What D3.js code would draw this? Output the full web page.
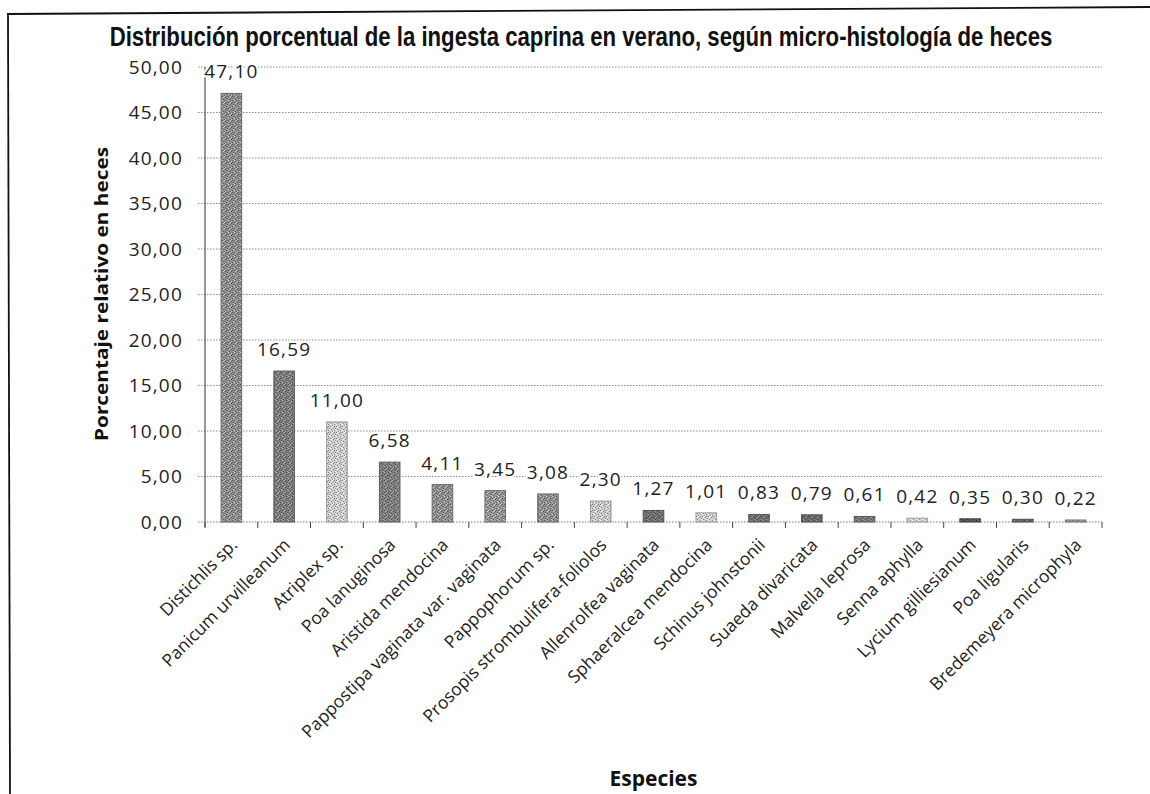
<!DOCTYPE html>
<html><head><meta charset="utf-8">
<script src="https://cdn.jsdelivr.net/npm/d3@7"></script>
<style>html,body{margin:0;padding:0;background:#fff;}svg{display:block;}</style>
</head><body>
<svg id="chart" width="1150" height="794"></svg>
<script>
// ---- data ----
const species = ["Distichlis sp.","Panicum urvilleanum","Atriplex sp.","Poa lanuginosa","Aristida mendocina","Pappostipa vaginata var. vaginata","Pappophorum sp.","Prosopis strombulifera-foliolos","Allenrolfea vaginata","Sphaeralcea mendocina","Schinus johnstonii","Suaeda divaricata","Malvella leprosa","Senna aphylla","Lycium gilliesianum","Poa ligularis","Bredemeyera microphyla"];
const values = [47.10,16.59,11.00,6.58,4.11,3.45,3.08,2.30,1.27,1.01,0.83,0.79,0.61,0.42,0.35,0.30,0.22];
const yTicks = [0,5,10,15,20,25,30,35,40,45,50];
const titleText = "Distribución porcentual de la ingesta caprina en verano, según micro-histología de heces";
const yTitle = "Porcentaje relativo en heces";
const xTitle = "Especies";
// ---- styles ----
const barShades = ["#8c8c8c","#7d7d7d","#cdcdcd","#7e7e7e","#8e8e8e","#949494","#8f8f8f","#c9c9c9","#6f6f6f","#cfcfcf","#717171","#6b6b6b","#787878","#d3d3d3","#555555","#666666","#9a9a9a"];

const svg = d3.select("#chart");
const fmt = v => d3.format(".2f")(v).replace(".", ",");
const M = {left:205, right:1102, top:67, bottom:522};

const x = d3.scaleBand().domain(species).range([M.left, M.right]).paddingInner(0.61).paddingOuter(0.305);
const y = d3.scaleLinear().domain([0,50]).range([M.bottom, M.top]);

// frame (left and top edges only visible)
svg.append("line").attr("x1",7).attr("y1",14).attr("x2",1150).attr("y2",7).attr("stroke","#111").attr("stroke-width",1.8);
svg.append("line").attr("x1",8).attr("y1",14).attr("x2",10).attr("y2",794).attr("stroke","#111").attr("stroke-width",1.8);

// patterns
const defs = svg.append("defs");
const darkDots = [[0,0],[3,1],[1,3],[4,4],[2,5],[5,2],[4,0]];
const lightDots = [[2,0],[5,3],[0,4],[3,5],[1,1]];
barShades.forEach((c,i)=>{
  const p = defs.append("pattern").attr("id","pat"+i).attr("patternUnits","userSpaceOnUse").attr("width",6).attr("height",6);
  p.append("rect").attr("width",6).attr("height",6).attr("fill",c);
  darkDots.forEach(d=>p.append("rect").attr("x",d[0]).attr("y",d[1]).attr("width",1).attr("height",1).attr("fill",d3.color(c).darker(1.2)));
  lightDots.forEach(d=>p.append("rect").attr("x",d[0]).attr("y",d[1]).attr("width",1).attr("height",1).attr("fill",d3.color(c).brighter(1.0)));
});

// gridlines
svg.append("g").attr("class","grid").selectAll("line").data(yTicks.filter(t=>t>0)).join("line")
  .attr("x1",M.left-7).attr("x2",M.right).attr("y1",d=>y(d)).attr("y2",d=>y(d))
  .attr("stroke","#8a8a8a").attr("stroke-width",1).attr("stroke-dasharray","1.5,1.5");

const yAxis = d3.axisLeft(y).tickValues(yTicks).tickSize(0).tickPadding(22).tickFormat(fmt);
const gy = svg.append("g").attr("transform",`translate(${M.left},0)`).call(yAxis);
gy.select(".domain").remove();
gy.selectAll("text").attr("font-family","'Open Sans', sans-serif").attr("font-size","19px")
  .attr("letter-spacing","1.2px").attr("fill","#222");

// y axis line
svg.append("line").attr("x1",M.left).attr("x2",M.left).attr("y1",y(50)).attr("y2",M.bottom+5).attr("stroke","#333").attr("stroke-width",1);

// x axis baseline + ticks
svg.append("line").attr("x1",M.left-7).attr("x2",M.right).attr("y1",M.bottom).attr("y2",M.bottom)
  .attr("stroke","#777").attr("stroke-width",1).attr("stroke-dasharray","1.5,1.5");
const bounds = species.map(s=>x(s) - (x.step()-x.bandwidth())/2).concat([M.right]);
svg.append("g").selectAll("line").data(bounds).join("line")
  .attr("x1",d=>d).attr("x2",d=>d).attr("y1",M.bottom).attr("y2",M.bottom+6).attr("stroke","#444").attr("stroke-width",1);

// bars
svg.append("g").selectAll("rect").data(values).join("rect")
  .attr("x",(d,i)=>x(species[i])).attr("width",x.bandwidth())
  .attr("y",d=>y(d)).attr("height",d=>y(0)-y(d))
  .attr("fill",(d,i)=>`url(#pat${i})`).attr("stroke",(d,i)=>d3.color(barShades[i]).darker(0.8)).attr("stroke-width",1);

// data labels
svg.append("g").selectAll("text").data(values).join("text")
  .attr("x",(d,i)=>x(species[i])+x.bandwidth()/2).attr("y",d=>y(d)-15)
  .attr("text-anchor","middle").attr("font-family","'Open Sans', sans-serif").attr("font-size","19px")
  .attr("letter-spacing","1.2px").attr("fill","#222")
  .attr("stroke","#fff").attr("stroke-width",4).attr("paint-order","stroke").text(fmt);

// x tick labels rotated
svg.append("g").selectAll("text").data(species).join("text")
  .attr("transform",s=>`translate(${x(s)+x.bandwidth()/2+7},${M.bottom+24}) rotate(-45)`)
  .attr("text-anchor","end").attr("font-family","'Open Sans', sans-serif").attr("font-size","17.5px").attr("fill","#222")
  .text(s=>s);

// chart title, horizontally condensed to the reference width
const tt = svg.append("text").attr("text-anchor","middle")
  .attr("font-family","'Liberation Sans Narrow','Liberation Sans',sans-serif").attr("font-weight","bold").attr("font-size","28px")
  .attr("fill","#111").text(titleText);
const tw = tt.node().getComputedTextLength();
tt.attr("transform",`translate(581,46) scale(${943/tw},1)`);

svg.append("text").attr("transform","translate(108,294) rotate(-90)").attr("text-anchor","middle")
  .attr("font-family","'Open Sans', sans-serif").attr("font-weight","bold").attr("font-size","18px")
  .attr("textLength",294).attr("lengthAdjust","spacingAndGlyphs").attr("fill","#111").text(yTitle);
svg.append("text").attr("x",(M.left+M.right)/2).attr("y",786).attr("text-anchor","middle")
  .attr("font-family","'Open Sans', sans-serif").attr("font-weight","bold").attr("font-size","21px").attr("fill","#111").text(xTitle);
</script>
</body></html>
